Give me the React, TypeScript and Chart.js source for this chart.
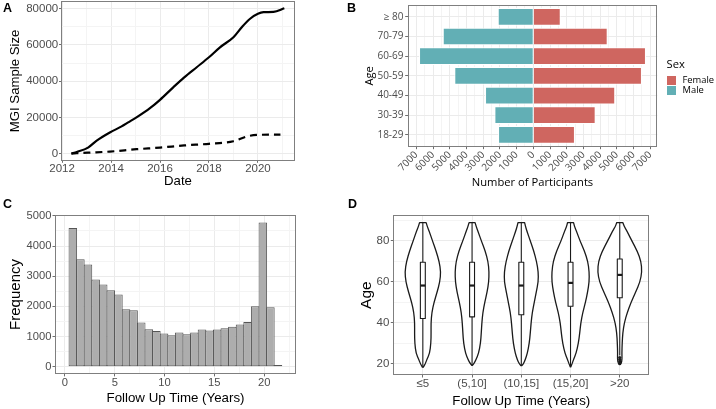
import React, { useEffect, useRef } from 'react';
import { Chart, registerables } from 'chart.js';

Chart.register(...registerables);

// ---------------- Panel A: cumulative sample size ----------------
const A_TOTAL_DATE = [2012.38, 2012.6, 2013.06, 2013.4, 2013.95, 2014.43, 2014.7, 2015.04, 2015.59, 2016.0, 2016.54, 2016.99, 2017.5, 2018.0, 2018.45, 2019.0, 2019.34, 2019.68, 2020.0, 2020.23, 2020.64, 2021.08];
const A_TOTAL_SIZE = [0, 900, 3300, 7000, 11600, 15000, 17200, 20000, 25100, 29700, 36600, 42100, 47700, 53200, 58700, 64300, 69800, 74500, 77200, 78100, 78300, 80300];
const A_SUB_DATE = [2012.38, 2013.06, 2013.95, 2015.04, 2016.0, 2016.99, 2018.0, 2019.0, 2019.56, 2020.0, 2020.92];
const A_SUB_SIZE = [0, 500, 1100, 2400, 3300, 4500, 5400, 6800, 9500, 10300, 10500];
const A_X_TICKS = [2012, 2014, 2016, 2018, 2020];
const A_Y_TICKS = [0, 20000, 40000, 60000, 80000];

// ---------------- Panel B: age pyramid ----------------
const AGE_GROUPS = ['18-29', '30-39', '40-49', '50-59', '60-69', '70-79', '≥ 80'];
const FEMALE_COUNT = [2490, 3730, 4900, 6500, 6740, 4450, 1640];
const MALE_COUNT = [2110, 2330, 2890, 4730, 6840, 5420, 2130];
const B_X_TICKS = [-7000, -6000, -5000, -4000, -3000, -2000, -1000, 0, 1000, 2000, 3000, 4000, 5000, 6000, 7000];
const SEX_LABELS = ['Female', 'Male'];

// ---------------- Panel C: follow-up histogram ----------------
const HIST_MID = [0.79, 1.55, 2.31, 3.08, 3.84, 4.6, 5.37, 6.13, 6.89, 7.66, 8.42, 9.18, 9.95, 10.71, 11.47, 12.23, 13.0, 13.76, 14.52, 15.29, 16.05, 16.81, 17.58, 18.34, 19.1, 19.87, 20.63, 21.39];
const HIST_COUNT = [4600, 3560, 3390, 2890, 2725, 2535, 2395, 1905, 1872, 1466, 1240, 1180, 1102, 1038, 1134, 1072, 1134, 1235, 1202, 1233, 1278, 1323, 1402, 1480, 2000, 4780, 1970, 55];
const C_X_TICKS = [0, 5, 10, 15, 20];
const C_Y_TICKS = [0, 1000, 2000, 3000, 4000, 5000];

// ---------------- Panel D: age by follow-up (violins) ----------------
const FU_GROUPS = ['≤5', '(5,10]', '(10,15]', '(15,20]', '>20'];
const VIOLIN_AGES = [89, 87, 85, 80, 75, 70, 65, 60, 55, 50, 45, 40, 35, 30, 25, 22, 20];
const VIOLIN_MIN_AGE = [18.3, 19.2, 19.0, 18.4, 19.7];
const VIOLIN_HALF_WIDTH = [
  [0.067, 0.091, 0.126, 0.197, 0.27, 0.331, 0.365, 0.345, 0.29, 0.227, 0.183, 0.166, 0.168, 0.164, 0.138, 0.081, 0.051, 0.01],
  [0.061, 0.085, 0.116, 0.189, 0.268, 0.325, 0.345, 0.339, 0.306, 0.258, 0.219, 0.199, 0.187, 0.172, 0.132, 0.081, 0.037, 0.006],
  [0.067, 0.087, 0.112, 0.183, 0.254, 0.31, 0.345, 0.345, 0.304, 0.264, 0.223, 0.199, 0.183, 0.162, 0.122, 0.081, 0.047, 0.006],
  [0.061, 0.081, 0.118, 0.193, 0.284, 0.351, 0.379, 0.379, 0.347, 0.304, 0.249, 0.209, 0.187, 0.16, 0.112, 0.061, 0.032, 0.004],
  [0.061, 0.091, 0.142, 0.247, 0.357, 0.432, 0.45, 0.412, 0.323, 0.229, 0.152, 0.093, 0.061, 0.049, 0.043, 0.047, 0.03, 0.006],
];
const BOX_Q1 = [42.1, 42.9, 43.9, 48.1, 52.2];
const BOX_MEDIAN = [58.2, 58.2, 58.2, 59.5, 63.4];
const BOX_Q3 = [69.6, 69.6, 69.6, 69.6, 71.2];
const WHISKER_LO = [18.3, 19.2, 19.0, 18.4, 24.0];
const WHISKER_HI = [89, 89, 89, 89, 89];
const OUTLIER_AGES = [20, 21, 22, 23];
const D_Y_TICKS = [20, 40, 60, 80];

// ---------------- styling ----------------
const FONT_ARIAL = "'Liberation Sans', Arial, sans-serif";
const FONT_OPEN = "'Open Sans', 'Noto Sans', sans-serif";
const FEMALE_COLOR = '#CF6660';
const MALE_COLOR = '#62AFB5';
const GRID_MAJOR = '#EBEBEB';
const GRID_MINOR = '#F4F4F4';
const TICK_COLOR = '#6E6E6E';
const TICK_TEXT = '#4D4D4D';

type AxisSpec = {
  min: number; max: number; step: number; majors: number[];
  label?: (v: number) => string;
  size: number; tickLen: number; pad: number;
  family: string; tickSize: number;
  title: string; titleSize: number; titlePad: number; titleLH?: number;
  horizontal: boolean; rotation?: number; minorGrid: boolean;
};

function axis(s: AxisSpec): any {
  const isMajor = (v: any) => typeof v === 'number' && s.majors.some((m) => Math.abs(m - v) < 1e-6);
  return {
    type: 'linear',
    min: s.min,
    max: s.max,
    offset: false,
    border: { display: false },
    grid: {
      offset: false,
      drawTicks: true,
      tickLength: s.tickLen,
      tickWidth: 1,
      lineWidth: 1,
      color: (c: any) => (isMajor(c.tick?.value) ? GRID_MAJOR : s.minorGrid ? GRID_MINOR : 'rgba(0,0,0,0)'),
      tickColor: (c: any) => (isMajor(c.tick?.value) ? TICK_COLOR : 'rgba(0,0,0,0)'),
    },
    ticks: {
      autoSkip: false,
      padding: s.pad,
      minRotation: s.rotation ?? 0,
      maxRotation: s.rotation ?? 0,
      color: TICK_TEXT,
      font: { family: s.family, size: s.tickSize, lineHeight: 1 },
      callback: (v: any) => (isMajor(v) ? (s.label ? s.label(v) : String(v)) : ''),
    },
    afterBuildTicks: (scale: any) => {
      const vals: { value: number }[] = [];
      const start = Math.ceil(s.min / s.step - 1e-9);
      const end = Math.floor(s.max / s.step + 1e-9);
      for (let k = start; k <= end; k++) vals.push({ value: Math.round(k * s.step * 1000) / 1000 });
      scale.ticks = vals;
    },
    title: {
      display: true,
      text: s.title,
      color: '#000000',
      font: { family: s.family, size: s.titleSize, lineHeight: s.titleLH ?? 1 },
      padding: s.horizontal ? { top: 0, bottom: s.titlePad } : { top: s.titlePad, bottom: 0 },
    },
    afterFit: (scale: any) => {
      if (s.horizontal) scale.height = s.size;
      else scale.width = s.size;
      scale.paddingLeft = 0;
      scale.paddingRight = 0;
      scale.paddingTop = 0;
      scale.paddingBottom = 0;
    },
  };
}

const panelBorder = {
  id: 'panelBorder',
  afterDraw(chart: any) {
    const { ctx, chartArea: a } = chart;
    ctx.save();
    ctx.strokeStyle = '#7F7F7F';
    ctx.lineWidth = 1;
    const l = Math.round(a.left) + 0.5;
    const t = Math.round(a.top) + 0.5;
    const r = Math.round(a.right) - 0.5;
    const b = Math.round(a.bottom) - 0.5;
    ctx.strokeRect(l, t, r - l, b - t);
    ctx.restore();
  },
};

function smoothTo(ctx: CanvasRenderingContext2D, pts: number[][]) {
  ctx.lineTo(pts[0][0], pts[0][1]);
  for (let k = 1; k < pts.length - 1; k++) {
    const mx = (pts[k][0] + pts[k + 1][0]) / 2;
    const my = (pts[k][1] + pts[k + 1][1]) / 2;
    ctx.quadraticCurveTo(pts[k][0], pts[k][1], mx, my);
  }
  const last = pts[pts.length - 1];
  ctx.lineTo(last[0], last[1]);
}

const BOX_HALF = 0.05;

const violinPlugin = {
  id: 'violins',
  beforeDatasetsDraw(chart: any) {
    const { ctx, scales } = chart;
    const xs = scales.x;
    const ys = scales.y;
    const unit = xs.getPixelForValue(1) - xs.getPixelForValue(0);
    ctx.save();
    ctx.lineJoin = 'round';
    FU_GROUPS.forEach((_, g) => {
      const cx = xs.getPixelForValue(g);
      const ages = [...VIOLIN_AGES, VIOLIN_MIN_AGE[g]];
      const w = VIOLIN_HALF_WIDTH[g];
      const right = ages.map((a, k) => [cx + w[k] * unit, ys.getPixelForValue(a)]);
      const left = ages.map((a, k) => [cx - w[k] * unit, ys.getPixelForValue(a)]).reverse();
      ctx.beginPath();
      ctx.moveTo(left[left.length - 1][0], left[left.length - 1][1]);
      smoothTo(ctx, right);
      smoothTo(ctx, left);
      ctx.closePath();
      ctx.fillStyle = '#FFFFFF';
      ctx.fill();
      ctx.strokeStyle = '#1A1A1A';
      ctx.lineWidth = 1.3;
      ctx.stroke();

      const bw = BOX_HALF * unit;
      const yq1 = ys.getPixelForValue(BOX_Q1[g]);
      const yq3 = ys.getPixelForValue(BOX_Q3[g]);
      const ymed = ys.getPixelForValue(BOX_MEDIAN[g]);
      ctx.beginPath();
      ctx.moveTo(cx, ys.getPixelForValue(WHISKER_HI[g]));
      ctx.lineTo(cx, yq3);
      ctx.moveTo(cx, yq1);
      ctx.lineTo(cx, ys.getPixelForValue(WHISKER_LO[g]));
      ctx.lineWidth = 1.1;
      ctx.stroke();
      ctx.fillStyle = '#FFFFFF';
      ctx.fillRect(cx - bw, yq3, 2 * bw, yq1 - yq3);
      ctx.lineWidth = 1.1;
      ctx.strokeRect(cx - bw, yq3, 2 * bw, yq1 - yq3);
      ctx.beginPath();
      ctx.moveTo(cx - bw, ymed);
      ctx.lineTo(cx + bw, ymed);
      ctx.lineWidth = 2.2;
      ctx.stroke();
    });
    ctx.restore();
  },
};

const baseOptions = {
  responsive: false,
  animation: false as const,
  devicePixelRatio: 1,
  events: [] as any[],
  plugins: { legend: { display: false }, tooltip: { enabled: false } },
};

function configA(): any {
  return {
    type: 'line',
    data: {
      datasets: [
        {
          data: A_TOTAL_DATE.map((d, i) => ({ x: d, y: A_TOTAL_SIZE[i] })),
          borderColor: '#000000',
          borderWidth: 2.2,
          pointRadius: 0,
          cubicInterpolationMode: 'monotone',
          fill: false,
        },
        {
          data: A_SUB_DATE.map((d, i) => ({ x: d, y: A_SUB_SIZE[i] })),
          borderColor: '#000000',
          borderWidth: 2.2,
          borderDash: [7, 5],
          pointRadius: 0,
          cubicInterpolationMode: 'monotone',
          fill: false,
        },
      ],
    },
    options: {
      ...baseOptions,
      layout: { autoPadding: false, padding: { left: 0, top: 1, right: 5, bottom: 0 } },
      scales: {
        x: axis({ min: 2011.955, max: 2021.515, step: 1, majors: A_X_TICKS, size: 34.2, tickLen: 2, pad: 0, family: FONT_ARIAL, tickSize: 11.5, title: 'Date', titleSize: 13.2, titlePad: 6.7, horizontal: true, minorGrid: true }),
        y: axis({ min: -4000, max: 84300, step: 10000, majors: A_Y_TICKS, size: 61, tickLen: 2, pad: 0.8, family: FONT_ARIAL, tickSize: 11.5, title: 'MGI Sample Size', titleSize: 13.2, titlePad: 8.7, horizontal: false, minorGrid: true }),
      },
    },
    plugins: [panelBorder],
  };
}

function configB(): any {
  return {
    type: 'bar',
    data: {
      datasets: [
        {
          label: SEX_LABELS[0],
          data: AGE_GROUPS.map((_, i) => ({ y: i, x: FEMALE_COUNT[i] })),
          backgroundColor: FEMALE_COLOR,
          borderColor: '#FFFFFF',
          borderWidth: 1,
          borderSkipped: 'start',
          grouped: false,
          barPercentage: 0.9,
          categoryPercentage: 1,
        },
        {
          label: SEX_LABELS[1],
          data: AGE_GROUPS.map((_, i) => ({ y: i, x: -MALE_COUNT[i] })),
          backgroundColor: MALE_COLOR,
          borderColor: '#FFFFFF',
          borderWidth: 1,
          borderSkipped: 'start',
          grouped: false,
          barPercentage: 0.9,
          categoryPercentage: 1,
        },
      ],
    },
    options: {
      ...baseOptions,
      indexAxis: 'y',
      layout: { autoPadding: false, padding: { left: 0, top: 5, right: 58.7, bottom: 0 } },
      scales: {
        x: axis({ min: -7519, max: 7419, step: 500, majors: B_X_TICKS, label: (v) => String(Math.abs(v)), size: 53.3, tickLen: 2.5, pad: 0.5, family: FONT_OPEN, tickSize: 10, title: 'Number of Participants', titleSize: 11.2, titlePad: 11.2, horizontal: true, rotation: 45, minorGrid: true }),
        y: axis({ min: -0.6, max: 6.6, step: 1, majors: [0, 1, 2, 3, 4, 5, 6], label: (v) => AGE_GROUPS[v], size: 47.7, tickLen: 2.5, pad: 1.7, family: FONT_OPEN, tickSize: 10, title: 'Age', titleSize: 11.2, titlePad: 4.4, horizontal: false, minorGrid: false }),
      },
    },
    plugins: [panelBorder],
  };
}

function configC(): any {
  return {
    type: 'bar',
    data: {
      datasets: [
        {
          data: HIST_MID.map((m, i) => ({ x: m, y: HIST_COUNT[i] })),
          backgroundColor: '#ADADAD',
          borderColor: '#555555',
          borderWidth: 1,
          borderSkipped: false,
          barPercentage: 1.13,
          categoryPercentage: 1,
        },
      ],
    },
    options: {
      ...baseOptions,
      layout: { autoPadding: false, padding: { left: 0, top: 15, right: 4, bottom: 0 } },
      scales: {
        x: axis({ min: -1, max: 23.2, step: 2.5, majors: C_X_TICKS, size: 35.1, tickLen: 2.5, pad: 0.5, family: FONT_ARIAL, tickSize: 11.2, title: 'Follow Up Time (Years)', titleSize: 13.3, titlePad: 3.6, horizontal: true, minorGrid: true }),
        y: axis({ min: -240, max: 5030, step: 500, majors: C_Y_TICKS, size: 55, tickLen: 2.5, pad: 1, family: FONT_ARIAL, tickSize: 11.2, title: 'Frequency', titleSize: 15, titlePad: 8.2, horizontal: false, minorGrid: true }),
      },
    },
    plugins: [panelBorder],
  };
}

function configD(): any {
  return {
    type: 'scatter',
    data: {
      datasets: [
        {
          data: OUTLIER_AGES.map((a) => ({ x: 4, y: a })),
          pointRadius: 1.6,
          pointBackgroundColor: '#1A1A1A',
          pointBorderWidth: 0,
        },
      ],
    },
    options: {
      ...baseOptions,
      layout: { autoPadding: false, padding: { left: 0, top: 15.3, right: 66.7, bottom: 0 } },
      scales: {
        x: axis({ min: -0.6, max: 4.6, step: 1, majors: [0, 1, 2, 3, 4], label: (v) => FU_GROUPS[v], size: 34, tickLen: 2.5, pad: 1, family: FONT_ARIAL, tickSize: 11.5, title: 'Follow Up Time (Years)', titleSize: 13.3, titlePad: 1.3, horizontal: true, minorGrid: false }),
        y: axis({ min: 14.45, max: 92.55, step: 10, majors: D_Y_TICKS, size: 33.3, tickLen: 2.5, pad: 1.5, family: FONT_ARIAL, tickSize: 11.5, title: 'Age', titleSize: 15.5, titlePad: 0.2, titleLH: 0.8, horizontal: false, minorGrid: true }),
      },
    },
    plugins: [violinPlugin, panelBorder],
  };
}

const letterStyle = (left: number, top: number): React.CSSProperties => ({
  position: 'absolute', left, top, fontFamily: FONT_ARIAL, fontWeight: 700, fontSize: 12.5, lineHeight: '12.5px', color: '#000',
});

export default function App() {
  const aRef = useRef<HTMLCanvasElement>(null);
  const bRef = useRef<HTMLCanvasElement>(null);
  const cRef = useRef<HTMLCanvasElement>(null);
  const dRef = useRef<HTMLCanvasElement>(null);

  useEffect(() => {
    const charts = [
      new Chart(aRef.current as HTMLCanvasElement, configA()),
      new Chart(bRef.current as HTMLCanvasElement, configB()),
      new Chart(cRef.current as HTMLCanvasElement, configC()),
      new Chart(dRef.current as HTMLCanvasElement, configD()),
    ];
    return () => charts.forEach((c) => c.destroy());
  }, []);

  const cv = (left: number, top: number, w: number, h: number): React.CSSProperties => ({
    position: 'absolute', left, top, width: w, height: h,
  });

  return (
    <div style={{ position: 'absolute', left: 0, top: 0, width: 716, height: 409, background: '#FFFFFF', overflow: 'hidden' }}>
      <canvas ref={aRef} width={300} height={195} style={cv(0, 0, 300, 195)} />
      <canvas ref={bRef} width={356} height={200} style={cv(360, 0, 356, 200)} />
      <canvas ref={cRef} width={300} height={209} style={cv(0, 200, 300, 209)} />
      <canvas ref={dRef} width={356} height={209} style={cv(360, 200, 356, 209)} />

      <div style={letterStyle(3, 1.5)}>A</div>
      <div style={letterStyle(347, 2)}>B</div>
      <div style={letterStyle(3, 198)}>C</div>
      <div style={letterStyle(348, 198)}>D</div>

      <div style={{ position: 'absolute', left: 666.5, top: 57.9, fontFamily: FONT_OPEN, fontSize: 11.2, lineHeight: '11.2px', color: '#000' }}>Sex</div>
      <div style={{ position: 'absolute', left: 667, top: 75.5, width: 9, height: 9, background: FEMALE_COLOR }} />
      <div style={{ position: 'absolute', left: 667, top: 85.5, width: 9, height: 9, background: MALE_COLOR }} />
      <div style={{ position: 'absolute', left: 682.5, top: 75.2, fontFamily: FONT_OPEN, fontSize: 9.4, lineHeight: '9.4px', color: '#000' }}>{SEX_LABELS[0]}</div>
      <div style={{ position: 'absolute', left: 682.5, top: 85, fontFamily: FONT_OPEN, fontSize: 9.4, lineHeight: '9.4px', color: '#000' }}>{SEX_LABELS[1]}</div>
    </div>
  );
}
